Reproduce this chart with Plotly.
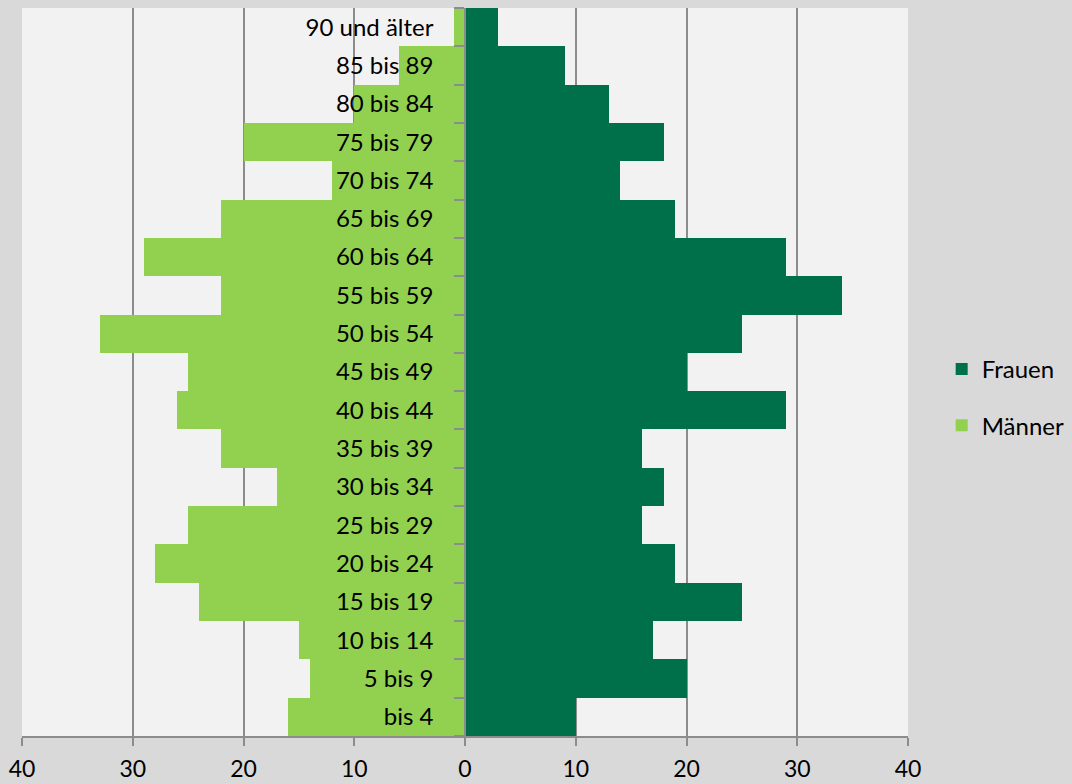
import plotly.graph_objects as go

categories = ["bis 4", "5 bis 9", "10 bis 14", "15 bis 19", "20 bis 24", "25 bis 29",
              "30 bis 34", "35 bis 39", "40 bis 44", "45 bis 49", "50 bis 54", "55 bis 59",
              "60 bis 64", "65 bis 69", "70 bis 74", "75 bis 79", "80 bis 84", "85 bis 89",
              "90 und älter"]
frauen = [10, 20, 17, 25, 19, 16, 18, 16, 29, 20, 25, 34, 29, 19, 14, 18, 13, 9, 3]
maenner = [16, 14, 15, 24, 28, 25, 17, 22, 26, 25, 33, 22, 29, 22, 12, 20, 10, 6, 1]
tick_vals = [-40, -30, -20, -10, 0, 10, 20, 30, 40]
tick_text = ["40", "30", "20", "10", "0", "10", "20", "30", "40"]

FONT = "Lato"
GRID = "#8c8c8c"

fig = go.Figure()
fig.add_trace(go.Bar(y=categories, x=frauen, orientation="h", name="Frauen",
                     marker=dict(color="#00704a", line=dict(width=0)), legendgroup="f"))
fig.add_trace(go.Bar(y=categories, x=[-v for v in maenner], orientation="h", name="Männer",
                     marker=dict(color="#92d050", line=dict(width=0)), legendgroup="m"))

fig.update_layout(
    width=1072, height=784,
    margin=dict(l=22, r=164, t=8, b=48, autoexpand=False),
    paper_bgcolor="#d9d9d9", plot_bgcolor="#f2f2f2",
    barmode="overlay", bargap=0,
    font=dict(family=FONT, size=24, color="#000000"),
    legend=dict(x=1.038, y=0.465, xanchor="left", yanchor="middle",
                font=dict(size=24), tracegroupgap=22, bgcolor="rgba(0,0,0,0)"),
    xaxis=dict(range=[-40, 40], tickvals=tick_vals, ticktext=tick_text,
               showgrid=True, gridcolor=GRID, gridwidth=1.5, automargin=False,
               zeroline=False, showline=True, linecolor=GRID, linewidth=1.5,
               ticks="outside", ticklen=8, tickcolor=GRID, tickwidth=1.5,
               ticklabelstandoff=4, tickfont=dict(size=23)),
    yaxis=dict(type="category", categoryorder="array", categoryarray=categories,
               anchor="free", position=0.5, side="left", automargin=False,
               showline=True, linecolor=GRID, linewidth=1.5,
               ticks="outside", tickson="boundaries", ticklen=10, tickcolor=GRID, tickwidth=1.5,
               showgrid=False, ticklabelstandoff=26, tickfont=dict(size=24)),
)

fig.write_html("out.html", config={"displayModeBar": False},
               post_script="document.body.style.margin='0';document.body.style.background='#d9d9d9';")
